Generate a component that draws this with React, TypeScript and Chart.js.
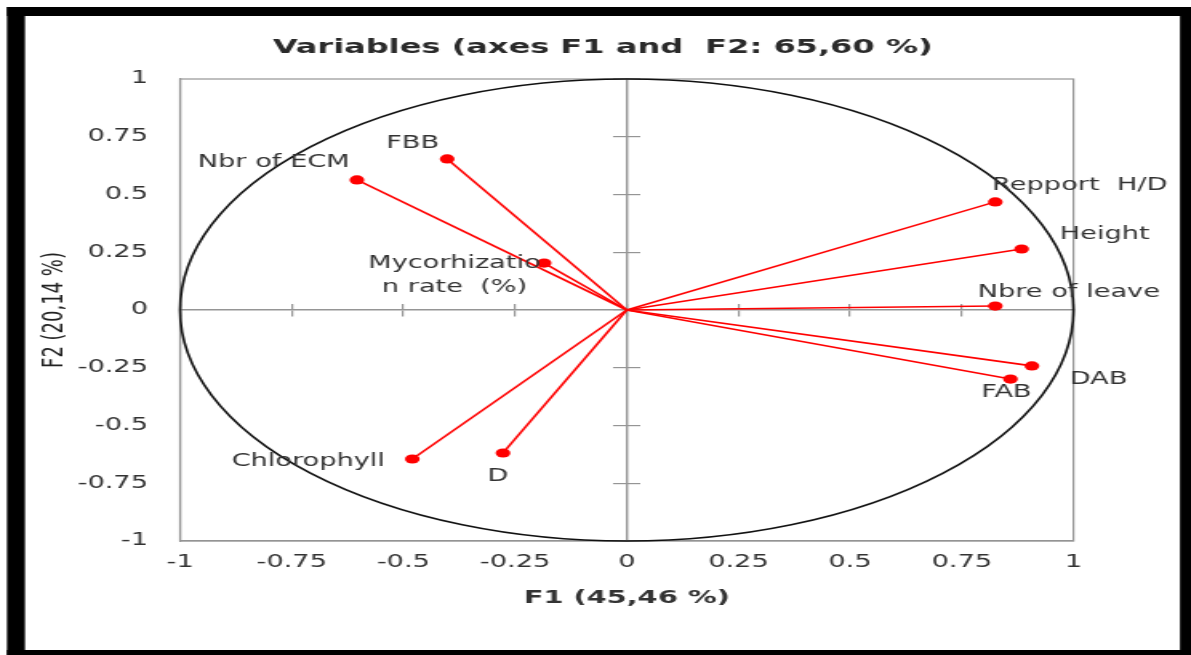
import React, { useEffect, useRef } from 'react';
import { Chart, registerables } from 'chart.js';

Chart.register(...registerables);

// ---- data ----
const variableNames = ['Nbr of ECM', 'FBB', 'Mycorhization rate (%)', 'Repport H/D', 'Height', 'Nbre of leave', 'DAB', 'FAB', 'Chlorophyll', 'D'];
const labelLines = [['Nbr of ECM'], ['FBB'], ['Mycorhizatio', 'n rate  (%)'], ['Repport  H/D'], ['Height'], ['Nbre of leave'], ['DAB'], ['FAB'], ['Chlorophyll'], ['D']];
const f1Values = [-0.604, -0.402, -0.185, 0.825, 0.884, 0.825, 0.907, 0.859, -0.48, -0.277];
const f2Values = [0.563, 0.654, 0.203, 0.468, 0.264, 0.017, -0.242, -0.299, -0.645, -0.619];
const tickValues = [-1, -0.75, -0.5, -0.25, 0, 0.25, 0.5, 0.75, 1];
const tickLabels = ['-1', '-0.75', '-0.5', '-0.25', '0', '0.25', '0.5', '0.75', '1'];
const titleText = 'Variables (axes F1 and  F2: 65,60 %)';
const xTitleText = 'F1 (45,46 %)';
const yTitleText = 'F2 (20,14 %)';

// ---- label placement (canvas units, relative to point) ----
const labelDx = [-52, -21.6, -56, 52.8, 51.9, 45.9, 41.6, -2.5, -65, -3.1];
const labelDy = [-17, -15, 0, -16, -14, -13, 14, 14, 3, 24];

const W = 744;
const H = 655;
const CSS_W = 1191;
const S = CSS_W / W;
const FONT = '"DejaVu Sans", Verdana, sans-serif';
const TEXT = '#333333';
const GRAY = '#959595';

const fmtTick = (v: number) => {
  const i = tickValues.findIndex((t) => Math.abs(t - v) < 1e-6);
  return i >= 0 ? tickLabels[i] : '';
};

const framePlugin = {
  id: 'frame',
  beforeDraw(chart: any) {
    const ctx = chart.ctx;
    ctx.save();
    ctx.fillStyle = '#ffffff';
    ctx.fillRect(0, 0, W, H);
    ctx.fillStyle = '#000000';
    ctx.fillRect(7 / S, 7, 18 / S, H - 7);
    ctx.fillRect(7 / S, 7, W - 7 / S, 9);
    ctx.fillRect(1180 / S, 7, W - 1180 / S, H - 7);
    ctx.fillRect(7 / S, 650, W - 7 / S, 5);
    ctx.restore();
  },
};

const circlePlugin = {
  id: 'circle',
  beforeDatasetsDraw(chart: any) {
    const ctx = chart.ctx;
    const xs = chart.scales.x;
    const ys = chart.scales.y;
    const a = chart.chartArea;
    ctx.save();
    ctx.strokeStyle = GRAY;
    ctx.lineWidth = 1.2;
    ctx.strokeRect(a.left, a.top, a.right - a.left, a.bottom - a.top);
    const cx = xs.getPixelForValue(0);
    const cy = ys.getPixelForValue(0);
    const rx = xs.getPixelForValue(1) - cx;
    const ry = cy - ys.getPixelForValue(1);
    ctx.beginPath();
    ctx.ellipse(cx, cy, rx, ry, 0, 0, Math.PI * 2);
    ctx.strokeStyle = '#111111';
    ctx.lineWidth = 1.6;
    ctx.stroke();
    ctx.restore();
  },
};

const labelPlugin = {
  id: 'varLabels',
  afterDatasetsDraw(chart: any) {
    const ctx = chart.ctx;
    ctx.save();
    ctx.font = `17px ${FONT}`;
    ctx.fillStyle = TEXT;
    ctx.textAlign = 'center';
    ctx.textBaseline = 'middle';
    labelLines.forEach((lines, i) => {
      const meta = chart.getDatasetMeta(i);
      const pt = meta.data[1];
      if (!pt) return;
      lines.forEach((line, k) => {
        ctx.fillText(line, pt.x + labelDx[i], pt.y + labelDy[i] + k * 24);
      });
    });
    ctx.restore();
  },
};

export default function App() {
  const ref = useRef<HTMLCanvasElement | null>(null);

  useEffect(() => {
    if (!ref.current) return;
    const datasets = variableNames.map((name, i) => ({
      label: name,
      data: [
        { x: 0, y: 0 },
        { x: f1Values[i], y: f2Values[i] },
      ],
      showLine: true,
      borderColor: '#ff0000',
      borderWidth: 1.6,
      pointRadius: [0, 4.6],
      pointBackgroundColor: '#ff0000',
      pointBorderColor: '#ff0000',
      pointBorderWidth: 0,
      xAxisID: 'x',
      yAxisID: 'y',
    }));

    const centerTicks = (axis: 'x' | 'y', tl: number, showBorder: boolean) => ({
      type: 'linear',
      axis,
      position: axis === 'x' ? { y: 0 } : { x: 0 },
      min: -1,
      max: 1,
      ticks: { display: false, stepSize: 0.25 },
      grid: { display: true, drawOnChartArea: false, drawTicks: true, tickLength: tl, color: GRAY, lineWidth: 1.2 },
      border: { display: showBorder, color: GRAY, width: 1.4 },
    });

    const chart = new Chart(ref.current, {
      type: 'scatter',
      data: { datasets } as any,
      options: {
        animation: false,
        responsive: false,
        events: [],
        layout: { padding: { left: 9, right: 0, top: 0, bottom: 20 } },
        plugins: {
          legend: { display: false },
          tooltip: { enabled: false },
          title: {
            display: true,
            text: titleText,
            color: '#2a2a2a',
            font: { family: FONT, size: 20, weight: 'bold' },
            padding: { top: 36, bottom: 19 },
          },
        },
        scales: {
          x: {
            type: 'linear',
            position: 'bottom',
            min: -1,
            max: 1,
            ticks: { stepSize: 0.25, callback: (v: any) => fmtTick(Number(v)), color: TEXT, font: { family: FONT, size: 17 }, padding: 11, maxRotation: 0, autoSkip: false },
            grid: { display: false, drawTicks: false },
            border: { display: true, color: GRAY, width: 1.2 },
            title: { display: true, text: xTitleText, color: TEXT, font: { family: FONT, size: 18, weight: 'bold' }, padding: { top: 0, bottom: 26 } },
            afterFit: (s: any) => { s.height = 94; },
          },
          y: {
            type: 'linear',
            position: 'left',
            min: -1,
            max: 1,
            ticks: { stepSize: 0.25, callback: (v: any) => fmtTick(Number(v)), color: TEXT, font: { family: FONT, size: 17 }, padding: 20 },
            grid: { display: false, drawTicks: false },
            border: { display: true, color: GRAY, width: 1.2 },
            title: { display: true, text: yTitleText, color: '#222222', font: { family: FONT, size: 18 }, padding: { top: 15, bottom: 0 } },
            afterFit: (s: any) => { s.width = 103.5; },
          },
          yRightSpace: {
            type: 'linear',
            position: 'right',
            display: true,
            ticks: { display: false },
            grid: { display: false, drawTicks: false },
            border: { display: false },
            afterFit: (s: any) => { s.width = 73.4; },
          },
          xc1: centerTicks('x', 6, true),
          xc2: centerTicks('x', -6, false),
          yc1: centerTicks('y', 8, true),
          yc2: centerTicks('y', -8, false),
        } as any,
      },
      plugins: [framePlugin, circlePlugin, labelPlugin],
    } as any);

    return () => chart.destroy();
  }, []);

  return (
    <canvas
      ref={ref}
      width={W}
      height={H}
      style={{ position: 'fixed', left: 0, top: 0, width: `${CSS_W}px`, height: `${H}px`, background: '#ffffff' }}
    />
  );
}
